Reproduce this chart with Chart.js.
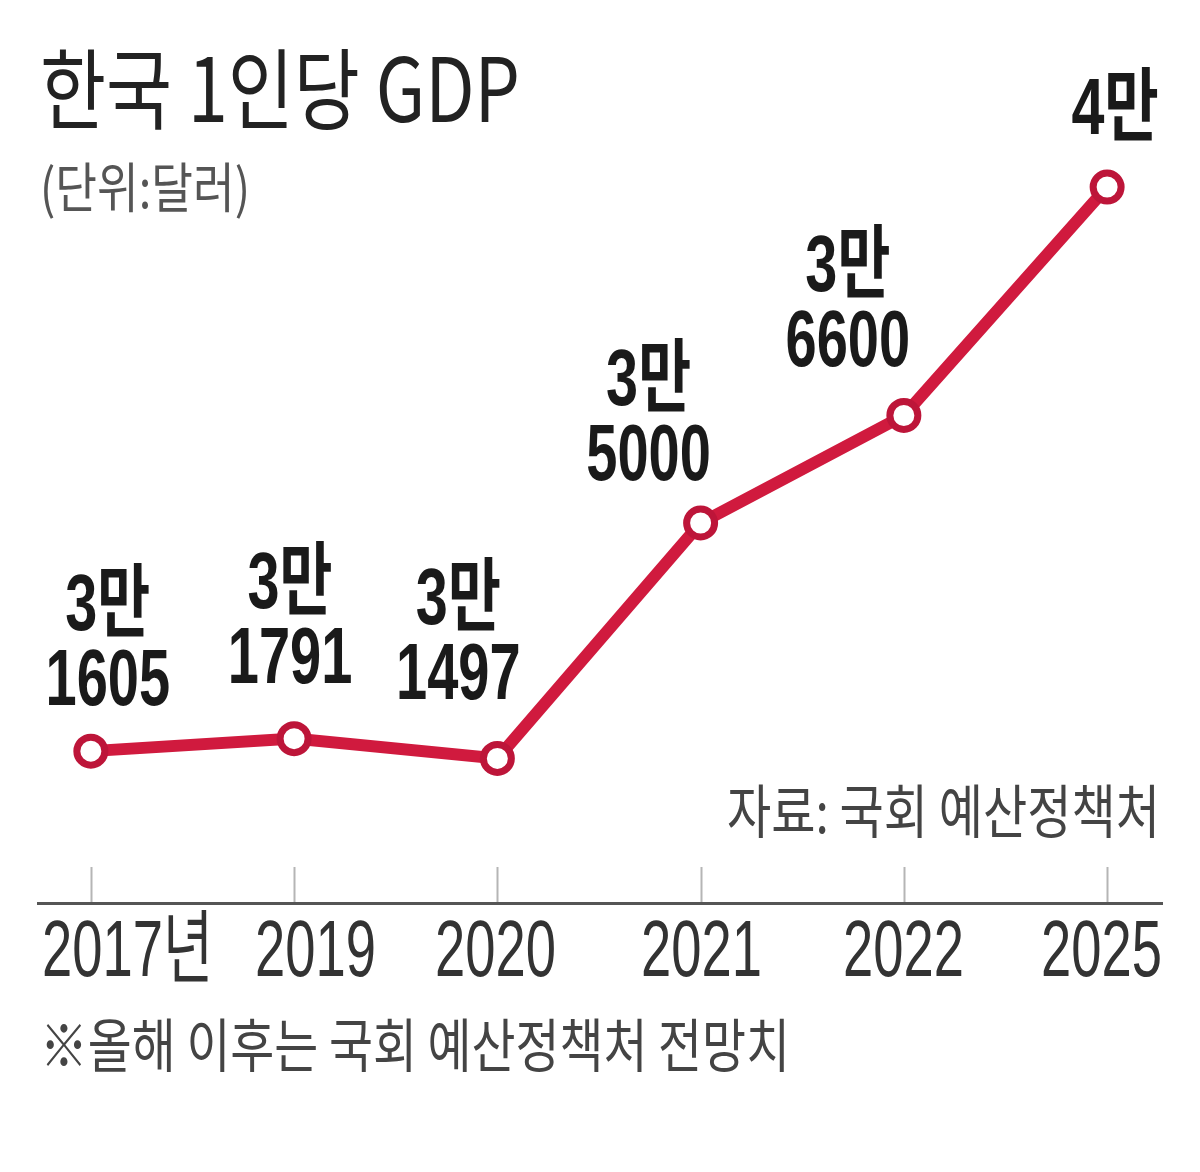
<!DOCTYPE html>
<html><head><meta charset="utf-8">
<script src="https://cdn.jsdelivr.net/npm/chart.js@4.4.1/dist/chart.umd.min.js"></script>
<style>html,body{margin:0;padding:0;background:#fff}#wrap{width:1200px;height:1172px;position:relative}</style>
</head><body><div id="wrap"><canvas id="c" width="1200" height="1172"></canvas></div>
<script>
// ---- data ----
const categories = ['2017년', '2019', '2020', '2021', '2022', '2025'];
const gdpValues = [31605, 31791, 31497, 35000, 36600, 40000];
const titleText = '한국 1인당 GDP';
const unitText = '(단위:달러)';
const sourceText = '자료: 국회 예산정책처';
const noteText = '※올해 이후는 국회 예산정책처 전망치';

// ---- style / layout ----
const RED = '#d01a3e';
const RED_DARK = '#bd1539';
const labelDx = [17, -4, -39, -52, -56, 8];
const labelDy = [-68, -78, -81, -65, -72, -75];
const tickLabelDx = [36, 21, -2, 0, -1, -6];

function condensedText(ctx, text, x, y, font, color, align, targetW, sx) {
  ctx.save();
  ctx.font = font;
  ctx.fillStyle = color;
  ctx.textBaseline = 'middle';
  const w = ctx.measureText(text).width;
  const s = targetW ? targetW / w : (sx || 1);
  ctx.translate(x, y);
  ctx.scale(s, 1);
  ctx.textAlign = align;
  ctx.fillText(text, 0, 0);
  ctx.restore();
}

const decor = {
  id: 'decor',
  beforeDraw(chart) {
    const ctx = chart.ctx;
    ctx.save();
    ctx.fillStyle = '#fff';
    ctx.fillRect(0, 0, chart.width, chart.height);
    ctx.restore();
    const xs = chart.scales.x;
    const bottom = chart.chartArea.bottom;
    ctx.save();
    ctx.strokeStyle = '#b5b5b5';
    ctx.lineWidth = 2;
    xs.ticks.forEach((t, i) => {
      const px = Math.round(xs.getPixelForValue(t.value)) + 0.5;
      ctx.beginPath();
      ctx.moveTo(px, bottom - 36);
      ctx.lineTo(px, bottom);
      ctx.stroke();
      condensedText(ctx, categories[i], px + tickLabelDx[i], bottom + 51,
        "400 80px 'Liberation Sans', 'Noto Sans CJK KR'", '#333', 'center', null, 0.68);
    });
    ctx.restore();
    condensedText(ctx, titleText, 40, 89, "400 88px 'Noto Sans CJK KR'", '#222', 'left', 480);
    condensedText(ctx, unitText, 40, 187, "400 54px 'Noto Sans CJK KR'", '#555', 'left', 210);
    condensedText(ctx, sourceText, 1160, 811, "400 58px 'Noto Sans CJK KR'", '#444', 'right', 433);
    condensedText(ctx, noteText, 40, 1045, "400 58px 'Noto Sans CJK KR'", '#444', 'left', 750);
  },
  afterDatasetsDraw(chart) {
    const ctx = chart.ctx;
    const meta = chart.getDatasetMeta(0);
    meta.data.forEach((pt, i) => {
      const v = gdpValues[i];
      const top = Math.floor(v / 10000) + '만';
      const rest = v % 10000;
      const cx = pt.x + labelDx[i];
      const y1 = pt.y + labelDy[i];
      const font = "bold 80px 'Liberation Sans', 'Noto Sans CJK KR'";
      if (rest) {
        condensedText(ctx, String(rest), cx, y1, font, '#1a1a1a', 'center', null, 0.7);
        condensedText(ctx, top, cx, y1 - 75, font, '#1a1a1a', 'center', null, 0.72);
      } else {
        condensedText(ctx, top, cx, y1, font, '#1a1a1a', 'center', null, 0.74);
      }
    });
  }
};

new Chart(document.getElementById('c'), {
  type: 'line',
  data: {
    datasets: [{
      data: gdpValues.map((v, i) => ({ x: i, y: v })),
      borderColor: RED,
      borderWidth: 12,
      pointRadius: 14,
      pointBorderWidth: 7,
      pointBackgroundColor: '#fff',
      pointBorderColor: RED_DARK,
      tension: 0,
      clip: false
    }]
  },
  options: {
    responsive: false,
    animation: false,
    devicePixelRatio: 1,
    layout: { padding: { left: 38, right: 38, top: 50, bottom: 0 } },
    plugins: { legend: { display: false }, tooltip: { enabled: false }, title: { display: false } },
    scales: {
      x: {
        type: 'linear',
        min: -0.26,
        max: 5.27,
        afterBuildTicks(s) { s.ticks = categories.map((c, i) => ({ value: i, label: c })); },
        afterFit(s) { s.height = 269; s.paddingLeft = 0; s.paddingRight = 0; },
        grid: { display: false, drawTicks: false },
        border: { display: true, color: '#555', width: 3 },
        ticks: { display: false, autoSkip: false, callback: (v) => categories[v] }
      },
      y: { display: false, min: 29345, max: 42039 }
    }
  },
  plugins: [decor]
});
</script></body></html>
